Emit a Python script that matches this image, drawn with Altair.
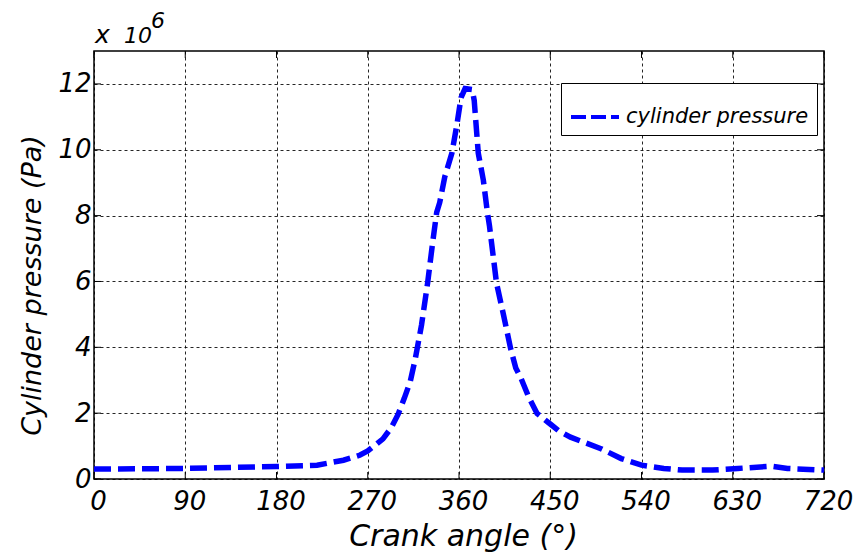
import altair as alt
import pandas as pd

# Crank angle (deg) and cylinder pressure (x 10^6 Pa)
angle = [0, 90, 180, 220, 246, 262, 270, 285, 293, 300, 306, 312, 317, 323, 329,
         334, 338, 341, 346, 353, 358, 362, 366, 373, 375, 379, 384, 388, 390,
         397, 404, 411, 416, 421, 429, 437, 450, 458, 470, 500, 520, 540, 562,
         580, 610, 635, 668, 684, 720]
pressure = [0.30, 0.32, 0.38, 0.42, 0.57, 0.72, 0.85, 1.22, 1.55, 1.97, 2.45,
            2.97, 3.67, 4.67, 5.94, 7.18, 8.1, 8.4, 9.18, 9.9, 10.78, 11.58,
            11.86, 11.83, 11.5, 9.9, 9.08, 8.1, 7.7, 5.95, 4.97, 3.95, 3.37,
            3.07, 2.47, 1.99, 1.67, 1.47, 1.27, 0.92, 0.62, 0.42, 0.32, 0.27,
            0.27, 0.32, 0.39, 0.32, 0.27]
series_name = "cylinder pressure"
x_ticks = [0, 90, 180, 270, 360, 450, 540, 630, 720]
y_ticks = [0, 2, 4, 6, 8, 10, 12]

W, H = 730, 428
FONT = "DejaVu Sans"

df = pd.DataFrame({"angle": angle, "pressure": pressure, "series": series_name})
xt = pd.DataFrame({"angle": x_ticks})
yt = pd.DataFrame({"pressure": y_ticks})

xscale = alt.Scale(domain=[0, 720], nice=False, zero=False)
yscale = alt.Scale(domain=[0, 13], nice=False, zero=False)

line = alt.Chart(df).mark_line(strokeWidth=5.5, strokeDash=[17, 7]).encode(
    x=alt.X("angle:Q", scale=xscale,
            axis=alt.Axis(values=x_ticks, title="Crank angle (°)", ticks=False,
                          domain=False, grid=True, labelPadding=9,
                          labelFontSize=26, labelFlush=False, labelOffset=4,
                          titleX=369, titleY=66, titleBaseline="alphabetic",
                          titleAlign="center", titleFontSize=30)),
    y=alt.Y("pressure:Q", scale=yscale,
            axis=alt.Axis(values=y_ticks, title="Cylinder pressure (Pa)", ticks=False,
                          domain=False, grid=True, labelPadding=3,
                          labelFontSize=26, labelFlush=False,
                          titleX=-54, titleY=234, titleBaseline="alphabetic",
                          titleAlign="center", titleAngle=270, titleFontSize=27)),
    color=alt.Color("series:N", scale=alt.Scale(range=["#0000ff"]),
                    legend=alt.Legend(orient="none", legendX=467, legendY=32,
                                      title=None, symbolType="stroke",
                                      symbolStrokeWidth=4, symbolDash=[15, 5],
                                      symbolSize=2304, padding=8,
                                      strokeColor="black", fillColor="white",
                                      labelFont=FONT, labelFontSize=21,
                                      labelFontStyle="italic", labelOffset=5,
                                      labelColor="black", labelLimit=400)),
)

tick_style = dict(color="black", strokeWidth=1)
tb = alt.Chart(xt).mark_rule(**tick_style).encode(
    x=alt.X("angle:Q", scale=xscale), y=alt.value(H), y2=alt.value(H - 7))
tt = alt.Chart(xt).mark_rule(**tick_style).encode(
    x=alt.X("angle:Q", scale=xscale), y=alt.value(0), y2=alt.value(7))
tl = alt.Chart(yt).mark_rule(**tick_style).encode(
    y=alt.Y("pressure:Q", scale=yscale), x=alt.value(0), x2=alt.value(7))
tr = alt.Chart(yt).mark_rule(**tick_style).encode(
    y=alt.Y("pressure:Q", scale=yscale), x=alt.value(W - 7), x2=alt.value(W))

txt_style = dict(font=FONT, fontStyle="italic", align="left",
                 baseline="alphabetic", color="black")
exp_x = alt.Chart(pd.DataFrame({"t": ["x"]})).mark_text(
    fontSize=25, **txt_style).encode(text="t:N", x=alt.value(1), y=alt.value(-8))
exp_base = alt.Chart(pd.DataFrame({"t": ["10"]})).mark_text(
    fontSize=22, **txt_style).encode(text="t:N", x=alt.value(30), y=alt.value(-8))
exp_pow = alt.Chart(pd.DataFrame({"t": ["6"]})).mark_text(
    fontSize=22, **txt_style).encode(text="t:N", x=alt.value(57), y=alt.value(-23))

chart = alt.layer(tb, tt, tl, tr, line, exp_x, exp_base, exp_pow).properties(
    width=W, height=H,
    autosize=alt.AutoSizeParams(type="none"),
    padding={"left": 94, "top": 51, "right": 34, "bottom": 75},
    background="white",
).configure_view(
    stroke="black", strokeWidth=1.5
).configure_axis(
    gridColor="black", gridOpacity=0.85, gridDash=[3, 3], gridWidth=1,
    labelFont=FONT, labelFontStyle="italic", labelColor="black",
    titleFont=FONT, titleFontStyle="italic", titleColor="black",
    titleFontWeight="normal",
)

chart.save("out.html", embed_options={"renderer": "svg", "actions": False})
